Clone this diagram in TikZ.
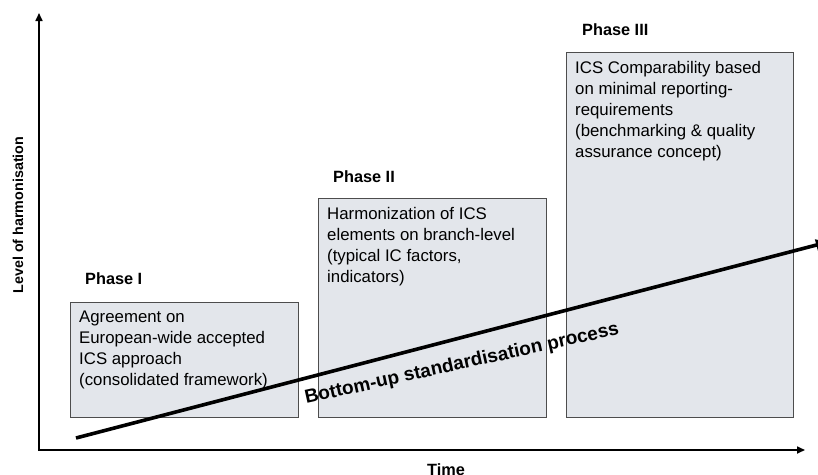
\documentclass[tikz,border=0pt]{standalone}
\usepackage{fontspec}
\setmainfont{Liberation Sans}
\usetikzlibrary{arrows.meta}
\definecolor{boxfill}{HTML}{E3E6EB}
\definecolor{boxline}{HTML}{4D4D4D}
\begin{document}
\begin{tikzpicture}[x=1pt,y=-1pt,
  phasebox/.style={draw=boxline,line width=0.8pt,fill=boxfill,rectangle,
    anchor=north west,inner sep=0pt},
  boxtext/.style={anchor=north west,inner sep=0pt,align=left,
    font=\fontsize{16.8}{21}\selectfont},
  phaselabel/.style={anchor=base west,inner sep=0pt,
    font=\fontsize{16.3}{19}\selectfont\bfseries},
  axis/.style={line width=1.6pt,-{Triangle[length=8pt,width=7pt]}},
  process/.style={line width=3.6pt,-{Triangle[length=12pt,width=11pt]}}]
\useasboundingbox (0,0) rectangle (818,474);

% axes
\coordinate (origin) at (39,450);
\coordinate (ytip) at (39,13);
\coordinate (xtip) at (805,450);
\draw[axis] ([yshift=-0.8]origin) -- (ytip);
\draw[axis] ([xshift=-0.8]origin) -- (xtip);
\node[rotate=90,inner sep=0pt,font=\fontsize{14.3}{17}\selectfont\bfseries]
  (ylabel) at (18,215) {Level of harmonisation};
\node[anchor=base,inner sep=0pt,font=\fontsize{16.3}{19}\selectfont\bfseries]
  (xlabel) at (446,475) {Time};

% phase boxes
\node[phasebox,minimum width=228pt,minimum height=115pt] (pI) at (70,302) {};
\node[phasebox,minimum width=228pt,minimum height=219pt] (pII) at (318,198) {};
\node[phasebox,minimum width=227pt,minimum height=365pt] (pIII) at (566,52) {};

\node[phaselabel] (lI) at (85,284) {Phase I};
\node[phaselabel] (lII) at (333,182) {Phase II};
\node[phaselabel] (lIII) at (582,35) {Phase III};

\node[boxtext] (tI) at ([shift={(9,9)}]pI.north west)
  {Agreement on\\European-wide accepted\\ICS approach\\(consolidated framework)};
\node[boxtext] (tII) at ([shift={(9,9)}]pII.north west)
  {Harmonization of ICS\\elements on branch-level\\(typical IC factors,\\indicators)};
\node[boxtext] (tIII) at ([shift={(9,9)}]pIII.north west)
  {ICS Comparability based\\on minimal reporting-\\requirements\\(benchmarking \& quality\\assurance concept)};

% standardisation process arrow
\coordinate (pstart) at (76,438);
\coordinate (pend) at (828,242);
\draw[process] (pstart) -- (pend);
\node[anchor=base,inner sep=0pt,rotate=12.5,
  font=\fontsize{19}{22}\selectfont\bfseries]
  (ptext) at (463,369) {Bottom-up standardisation process};
\end{tikzpicture}
\end{document}
